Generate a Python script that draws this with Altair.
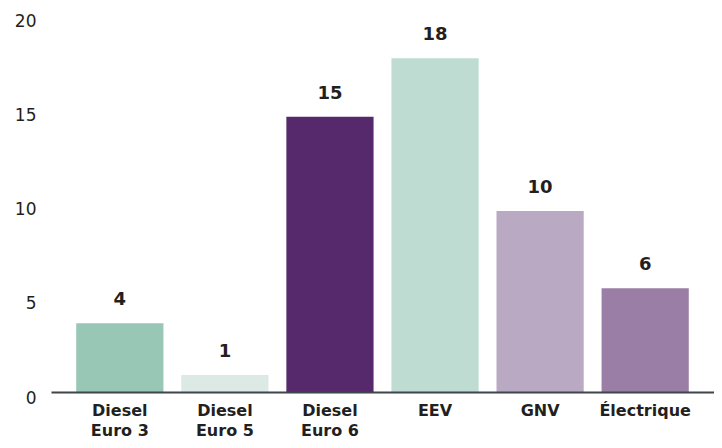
import altair as alt
import pandas as pd

categories = ["Diesel|Euro 3", "Diesel|Euro 5", "Diesel|Euro 6", "EEV", "GNV", "Électrique"]
values = [3.65, 0.9, 14.6, 17.7, 9.6, 5.5]
labels = ["4", "1", "15", "18", "10", "6"]
colors = ["#98c7b5", "#dde9e4", "#55296c", "#bedcd2", "#baa9c3", "#9a7ea5"]
y_ticks = [0, 5, 10, 15, 20]

df = pd.DataFrame({"cat": categories, "val": values, "lab": labels})

FONT = "DejaVu Sans"
TXT = "#231f20"

x = alt.X("cat:N", sort=categories, title=None,
          scale=alt.Scale(paddingInner=0.17, paddingOuter=0.24),
          axis=alt.Axis(labelExpr="split(datum.label, '|')", labelAngle=0,
                        labelFont=FONT, labelFontWeight="bold", labelFontSize=16,
                        labelColor=TXT, labelLineHeight=20, labelPadding=10,
                        ticks=False, domainColor="#3f4548", domainWidth=2,
                        labelBaseline="top", zindex=1))
y = alt.Y("val:Q", title=None,
          scale=alt.Scale(domain=[0, 20], nice=False),
          axis=alt.Axis(values=y_ticks, grid=False, domain=False, ticks=False,
                        labelFont=FONT, labelFontSize=17, labelColor=TXT,
                        labelPadding=15, labelOffset=6))

bars = alt.Chart(df).mark_bar().encode(
    x=x, y=y,
    color=alt.Color("cat:N", sort=categories,
                    scale=alt.Scale(domain=categories, range=colors), legend=None),
)

text = alt.Chart(df).mark_text(font=FONT, fontWeight="bold", fontSize=18,
                               color=TXT, baseline="alphabetic", dy=-18).encode(
    x=alt.X("cat:N", sort=categories),
    y=alt.Y("val:Q"),
    text="lab:N",
)

chart = alt.layer(bars, text).properties(
    width=663, height=377,
    autosize=alt.AutoSizeParams(type="none"),
    padding={"left": 43, "top": 7, "right": 0, "bottom": 48},
).configure_view(stroke=None)

chart.save("out.html", embed_options={"renderer": "svg", "actions": False})
